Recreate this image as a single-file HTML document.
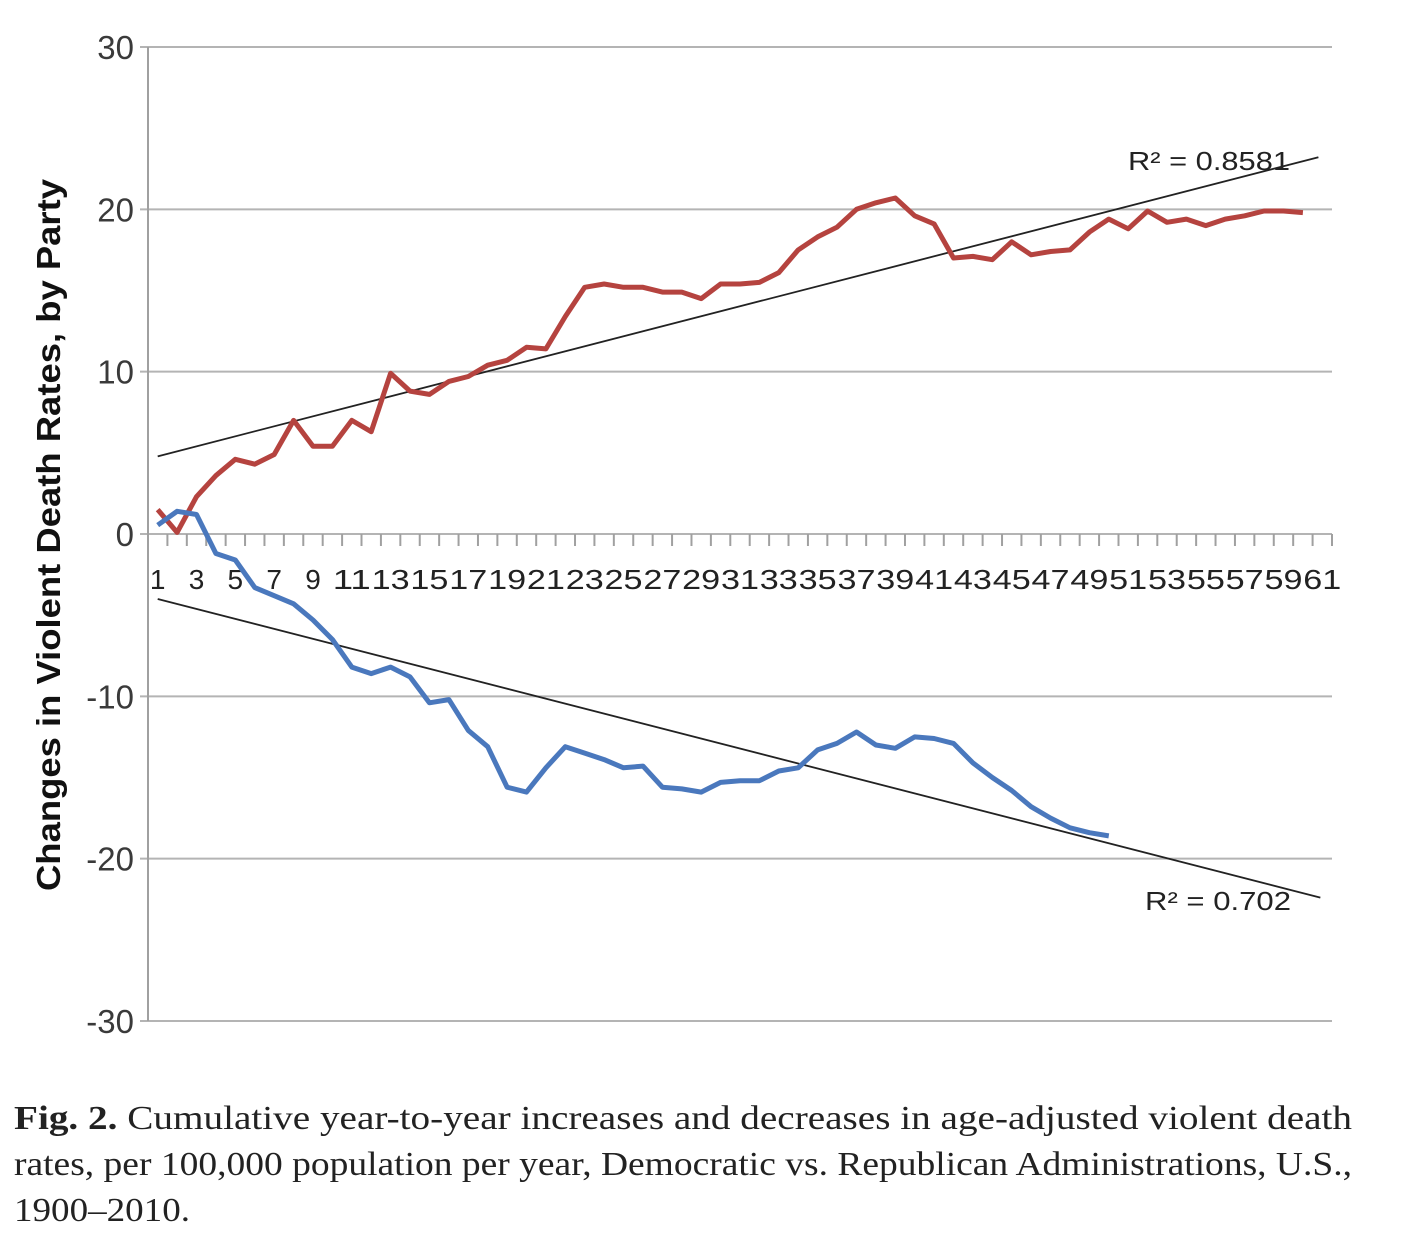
<!DOCTYPE html>
<html><head><meta charset="utf-8"><style>
html,body{margin:0;padding:0;background:#fff;}
svg{display:block;}
</style></head><body>
<svg id="chart" width="1404" height="1254" xmlns="http://www.w3.org/2000/svg">
<g id="grid"></g>
<g id="axes"></g>
<g id="series"></g>
<text transform="translate(60,535) rotate(-90)" text-anchor="middle" font-family="Liberation Sans, sans-serif" font-weight="bold" font-size="33" fill="#111" textLength="712" lengthAdjust="spacingAndGlyphs">Changes in Violent Death Rates, by Party</text>
<text x="1128" y="170" font-family="Liberation Sans, sans-serif" font-size="26" fill="#222" textLength="162" lengthAdjust="spacingAndGlyphs">R² = 0.8581</text>
<text x="1145" y="910" font-family="Liberation Sans, sans-serif" font-size="26" fill="#222" textLength="146" lengthAdjust="spacingAndGlyphs">R² = 0.702</text>
<g font-family="Liberation Serif, serif" font-size="34" fill="#222">
<text x="14" y="1129" textLength="1338" lengthAdjust="spacingAndGlyphs"><tspan font-weight="bold">Fig. 2.</tspan> Cumulative year-to-year increases and decreases in age-adjusted violent death</text>
<text x="14" y="1175" textLength="1338" lengthAdjust="spacingAndGlyphs">rates, per 100,000 population per year, Democratic vs. Republican Administrations, U.S.,</text>
<text x="14" y="1221" textLength="176" lengthAdjust="spacingAndGlyphs">1900–2010.</text>
</g>
</svg>
<script>
const yTicks = [30, 20, 10, 0, -10, -20, -30];
const categoryCount = 61;
const redValues = [1.5,0.1,2.3,3.6,4.6,4.3,4.9,7.0,5.4,5.4,7.0,6.3,9.9,8.8,8.6,9.4,9.7,10.4,10.7,11.5,11.4,13.4,15.2,15.4,15.2,15.2,14.9,14.9,14.5,15.4,15.4,15.5,16.1,17.5,18.3,18.9,20.0,20.4,20.7,19.6,19.1,17.0,17.1,16.9,18.0,17.2,17.4,17.5,18.6,19.4,18.8,19.9,19.2,19.4,19.0,19.4,19.6,19.9,19.9,19.8];
const blueValues = [0.55,1.4,1.2,-1.2,-1.6,-3.3,-3.8,-4.3,-5.3,-6.5,-8.2,-8.6,-8.2,-8.8,-10.4,-10.2,-12.1,-13.1,-15.6,-15.9,-14.4,-13.1,-13.5,-13.9,-14.4,-14.3,-15.6,-15.7,-15.9,-15.3,-15.2,-15.2,-14.6,-14.4,-13.3,-12.9,-12.2,-13.0,-13.2,-12.5,-12.6,-12.9,-14.1,-15.0,-15.8,-16.8,-17.5,-18.1,-18.4,-18.6];

const NS = "http://www.w3.org/2000/svg";
const X0 = 148, X1 = 1332, Y30 = 47, Y0 = 534;
const pxPerUnit = (Y0 - Y30) / 30;
const catW = (X1 - X0) / categoryCount;
function xScale(i) { return X0 + (i + 0.5) * catW; }
function yScale(v) { return Y0 - v * pxPerUnit; }
function mk(tag, attrs, parent) {
  const el = document.createElementNS(NS, tag);
  for (const k in attrs) el.setAttribute(k, attrs[k]);
  parent.appendChild(el);
  return el;
}
const grid = document.getElementById('grid');
const axes = document.getElementById('axes');
const series = document.getElementById('series');

yTicks.forEach(t => {
  const y = yScale(t);
  const gl = mk('line', {x1: X0 - 8, x2: X1, y1: y, y2: y, stroke: '#b4b4b4', 'stroke-width': 2}, grid);
  
  
  const tx = mk('text', {x: 134, y: y + 12, 'text-anchor': 'end', 'font-family': 'Liberation Sans, sans-serif', 'font-size': 33, fill: '#3a3a3a'}, axes);
  tx.textContent = t;
  
  
});
const ya = mk('line', {x1: X0, x2: X0, y1: Y30, y2: yScale(-30), stroke: '#a0a0a0', 'stroke-width': 2}, axes);


for (let i = 1; i <= categoryCount; i++) {
  const x = X0 + i * catW;
  const tk = mk('line', {x1: x, x2: x, y1: Y0, y2: Y0 + 12, stroke: '#a0a0a0', 'stroke-width': 2}, axes);
  
  
}
for (let i = 0; i < categoryCount; i += 2) {
  const lbl = String(i + 1);
  const attrs = {x: xScale(i), y: 589, 'text-anchor': 'middle', 'font-family': 'Liberation Sans, sans-serif', 'font-size': 28, fill: '#222'};
  if (lbl.length === 2) { attrs.textLength = 38; attrs.lengthAdjust = 'spacingAndGlyphs'; }
  const tx = mk('text', attrs, axes);
  tx.textContent = lbl;
  
  
}

function drawSeries(vals, color, name) {
  const pts = vals.map((v, i) => xScale(i).toFixed(1) + ',' + yScale(v).toFixed(1)).join(' ');
  const pl = mk('polyline', {points: pts, fill: 'none', stroke: color, 'stroke-width': 5, 'stroke-linejoin': 'round'}, series);
  
  
}
function drawTrend(vals, endIdx, name) {
  const n = vals.length;
  let sx = 0, sy = 0, sxx = 0, sxy = 0;
  vals.forEach((v, i) => { sx += i; sy += v; sxx += i * i; sxy += i * v; });
  const b = (n * sxy - sx * sy) / (n * sxx - sx * sx);
  const a = (sy - b * sx) / n;
  const ln = mk('line', {x1: xScale(0), y1: yScale(a), x2: xScale(endIdx), y2: yScale(a + b * endIdx), stroke: '#222', 'stroke-width': 1.8}, series);
  
  
}
drawTrend(redValues, 59.8, 'trendline-red');
drawTrend(blueValues, 59.9, 'trendline-blue');
drawSeries(redValues, '#b5433f', 'series-red');
drawSeries(blueValues, '#4a78bd', 'series-blue');
</script>
</body></html>
